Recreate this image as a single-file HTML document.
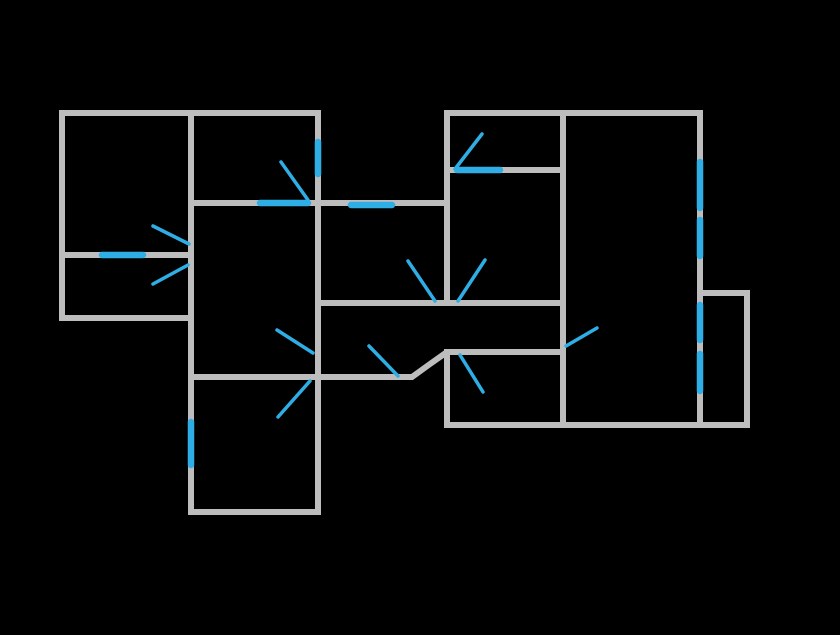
<!DOCTYPE html>
<html><head><style>html,body{margin:0;background:#000;}</style></head><body>
<svg width="840" height="630" viewBox="0 0 840 630" xmlns="http://www.w3.org/2000/svg">
<rect width="840" height="630" fill="#000"/>
<g stroke="#bdbdbd" stroke-width="6" fill="none" stroke-linecap="square">
<path d="M62,113 H318 V512 H191 V318 H62 Z"/>
<path d="M191,113 V318"/>
<path d="M62,255 H191"/>
<path d="M191,203 H447"/>
<path d="M191,377 H412 L430,364 L447,352 H563"/>
<path d="M318,303 H563"/>
<path d="M447,113 H700 V425 H447 V352"/>
<path d="M447,113 V303"/>
<path d="M447,170 H563"/>
<path d="M563,113 V425"/>
<path d="M700,293 H747 V425 H700"/>
</g>
<g stroke="#2eaee4" stroke-width="6.5" stroke-linecap="round">
<path d="M318,142 V174"/>
<path d="M260,203 H308"/>
<path d="M351,205 H392"/>
<path d="M102,255 H143"/>
<path d="M191,422 V465"/>
<path d="M457,170 H500"/>
<path d="M700,162 V208"/>
<path d="M700,220 V256"/>
<path d="M700,305 V340"/>
<path d="M700,354 V391"/>
</g>
<g stroke="#2eaee4" stroke-width="3.5" stroke-linecap="round">
<path d="M281,162 L308,200"/>
<path d="M153,226 L189,244"/>
<path d="M153,284 L188,265"/>
<path d="M277,330 L313,353"/>
<path d="M278,417 L310,381"/>
<path d="M369,346 L398,376"/>
<path d="M408,261 L435,301"/>
<path d="M458,301 L485,260"/>
<path d="M455,169 L482,134"/>
<path d="M566,346 L597,328"/>
<path d="M460,355 L483,392"/>
</g>
</svg>
</body></html>
